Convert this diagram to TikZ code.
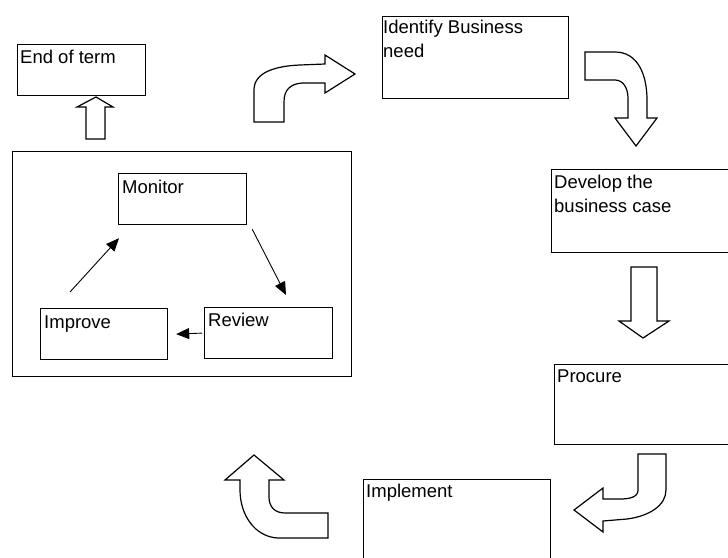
\documentclass[tikz,border=0pt]{standalone}
\usepackage{fontspec}
\setmainfont{Liberation Sans}
\usetikzlibrary{arrows.meta,calc}
\begin{document}
\begin{tikzpicture}[x=1pt,y=-1pt,
  box/.style={draw=black,line width=1.2pt,anchor=north west,inner sep=0pt},
  lbl/.style={anchor=north west,inner sep=0pt,align=left,
    font=\fontsize{18.5}{24}\selectfont},
  blockarrow/.style={draw=black,line width=1.2pt,line join=miter,fill=white},
  flow/.style={line width=0.9pt,-{Triangle[length=13pt,width=11pt]}}]

% page frame
\useasboundingbox (0,0) rectangle (728,557);
\fill[white] (0,0) rectangle (728,557);
\clip (0,0) rectangle (728,557);

% process boxes
\node[box,minimum width=128,minimum height=51] (endterm)   at (17,44)  {};
\node[box,minimum width=186,minimum height=82] (identify)  at (382,16) {};
\node[box,minimum width=190,minimum height=83] (develop)   at (551,169) {};
\node[box,minimum width=190,minimum height=80] (procure)   at (554,364) {};
\node[box,minimum width=187,minimum height=90] (implement) at (363,479) {};

% review cycle
\node[box,minimum width=339,minimum height=225] (cycle)  at (12,151) {};
\node[box,minimum width=128,minimum height=51]  (monitor) at (118,173) {};
\node[box,minimum width=127,minimum height=51]  (improve) at (40,308) {};
\node[box,minimum width=128,minimum height=51]  (review)  at (204,307) {};

% labels
\node[lbl] (tEnd) at ($(endterm.north west)+(3,5)$)   {\rule{0pt}{14pt}End of term};
\node[lbl] (tIde) at ($(identify.north west)+(1,3)$)  {\rule{0pt}{14pt}Identify Business\\need};
\node[lbl] (tDev) at ($(develop.north west)+(3,5)$)   {\rule{0pt}{14pt}Develop the\\business case};
\node[lbl] (tPro) at ($(procure.north west)+(3,4)$)   {\rule{0pt}{14pt}Procure};
\node[lbl] (tImp) at ($(implement.north west)+(3,4)$) {\rule{0pt}{14pt}Implement};
\node[lbl] (tMon) at ($(monitor.north west)+(4,6)$)   {\rule{0pt}{14pt}Monitor};
\node[lbl] (tImv) at ($(improve.north west)+(4,6)$)   {\rule{0pt}{14pt}Improve};
\node[lbl] (tRev) at ($(review.north west)+(4,5)$)    {\rule{0pt}{14pt}Review};

% cycle connectors
\draw[flow] ([shift={(30,-16)}]improve.north west) -- ([shift={(1,13)}]monitor.south west);
\draw[flow] ([shift={(5,4)}]monitor.south east) -- ([shift={(82,-12)}]review.north west);
\draw[flow] ([xshift=-2pt]review.west) -- ([xshift=8pt]improve.east);

% block arrows between the stages
% turn right towards "Identify Business need"
\draw[blockarrow] (254,122) -- (254,90) .. controls (254,72) and (276,66) .. (300,65)
  -- (325,64) -- (325,55) -- (355,74) -- (325,93) -- (325,83) -- (302,83)
  .. controls (290,84) and (284,90) .. (284,102) -- (284,122) -- cycle;
% turn down towards "Develop the business case"
\draw[blockarrow] (585,52) -- (615,52) .. controls (638,52) and (647,75) .. (647,100)
  -- (647,118) -- (657,118) -- (636,146) -- (615,118) -- (628,118) -- (628,98)
  .. controls (628,88) and (623,80) .. (615,80) -- (585,80) -- cycle;
% straight down towards "Procure"
\draw[blockarrow] (631,267) -- (657,267) -- (657,321) -- (669,321) -- (643,338)
  -- (619,321) -- (631,321) -- cycle;
% turn left towards "Implement"
\draw[blockarrow] (638,454) -- (638,490) .. controls (638,497) and (630,499) .. (620,499)
  -- (603,499) -- (603,488) -- (574,510) -- (603,532) -- (603,521) -- (627,519)
  .. controls (650,516) and (666,505) .. (666,490) -- (666,454) -- cycle;
% turn up back to the review cycle
\draw[blockarrow] (328,538) -- (278,538) .. controls (255,537) and (240,515) .. (240,490)
  -- (240,480) -- (225,480) -- (254,455) -- (284,480) -- (269,480) -- (269,497)
  .. controls (269,507) and (275,513) .. (285,513) -- (328,513) -- cycle;
% up towards "End of term"
\draw[blockarrow] (86,139) -- (86,107) -- (77,107) -- (96,97) -- (113,107)
  -- (105,107) -- (105,139) -- cycle;

\end{tikzpicture}
\end{document}
